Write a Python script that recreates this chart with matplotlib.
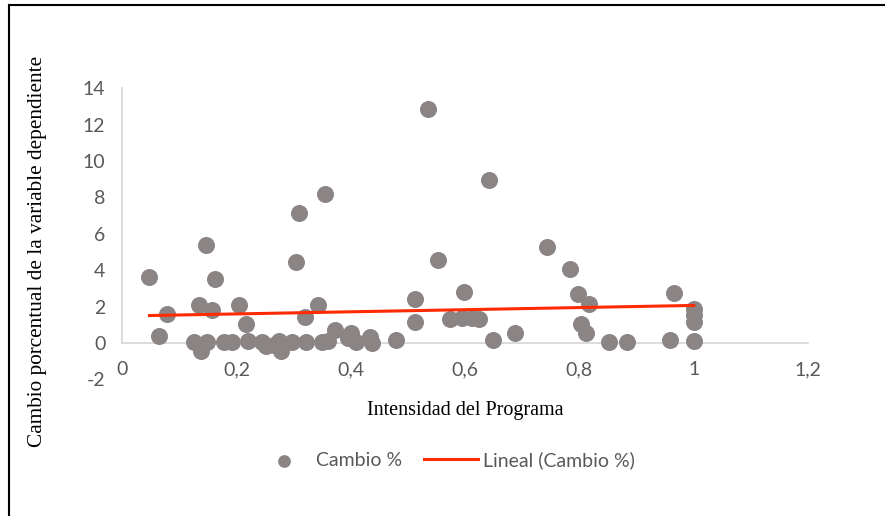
import numpy as np
import matplotlib.pyplot as plt
from matplotlib.lines import Line2D

# Intensidad del Programa vs. Cambio %
intensidad = np.array([
    0.048, 0.065, 0.079, 0.125, 0.135, 0.138, 0.147, 0.148, 0.157, 0.163,
    0.178, 0.193, 0.204, 0.217, 0.221, 0.244, 0.251, 0.265, 0.275, 0.278,
    0.297, 0.304, 0.309, 0.322, 0.320, 0.342, 0.349, 0.355, 0.361, 0.372,
    0.396, 0.400, 0.409, 0.434, 0.437, 0.479, 0.513, 0.513, 0.536, 0.552,
    0.574, 0.594, 0.599, 0.612, 0.625, 0.641, 0.649, 0.688, 0.744, 0.783,
    0.798, 0.803, 0.811, 0.816, 0.851, 0.883, 0.959, 0.966, 1.000, 1.000,
    1.000, 1.000,
])
cambio = np.array([
    3.64, 0.38, 1.59, 0.07, 2.09, -0.44, 5.38, 0.04, 1.81, 3.52,
    0.04, 0.04, 2.09, 1.03, 0.13, 0.04, -0.15, -0.11, 0.13, -0.44,
    0.04, 4.43, 7.12, 0.04, 1.45, 2.09, 0.04, 8.19, 0.13, 0.71,
    0.26, 0.53, 0.04, 0.35, -0.02, 0.16, 2.42, 1.17, 12.86, 4.56,
    1.32, 1.36, 2.82, 1.39, 1.30, 8.96, 0.16, 0.57, 5.29, 4.07,
    2.67, 1.03, 0.53, 2.12, 0.07, 0.07, 0.16, 2.73, 1.85, 1.55,
    1.14, 0.13,
])

x_ticks = [0, 0.2, 0.4, 0.6, 0.8, 1.0, 1.2]
x_labels = ['0', '0,2', '0,4', '0,6', '0,8', '1', '1,2']
y_ticks = [-2, 0, 2, 4, 6, 8, 10, 12, 14]

tick_font = 'Lato'
serif_font = 'Liberation Serif'
gris = '#595959'

fig = plt.figure(figsize=(8.85, 5.16), dpi=100)
ax = fig.add_axes([0.1379, 0.2647, 0.7752, 0.5643])

ax.scatter(intensidad, cambio, s=150, color='#8a8584', zorder=3,
           linewidths=0, label='Cambio %')

# linea de tendencia (ajuste lineal)
m, b = np.polyfit(intensidad, cambio, 1)
xt = np.array([intensidad.min(), intensidad.max()])
ax.plot(xt, m * xt + b, color='#ff2a00', linewidth=2.2, zorder=4,
        label='Lineal (Cambio %)')

ax.set_xlim(0, 1.2)
ax.set_ylim(-2, 14)
ax.set_xticks(x_ticks)
ax.set_xticklabels(x_labels)
ax.set_yticks(y_ticks)
ax.set_yticklabels([str(v) for v in y_ticks])

for s in ['top', 'right']:
    ax.spines[s].set_visible(False)
ax.spines['bottom'].set_position(('data', 0))
ax.spines['left'].set_bounds(0, 14)
for s in ['bottom', 'left']:
    ax.spines[s].set_color('#d9d9d9')
    ax.spines[s].set_linewidth(1.3)
ax.tick_params(length=0, labelsize=14, labelcolor=gris)
ax.tick_params(axis='x', pad=13)
ax.tick_params(axis='y', pad=12)
for lab in ax.get_xticklabels() + ax.get_yticklabels():
    lab.set_family(tick_font)

fig.text(465 / 885, 1 - 410 / 516, 'Intensidad del Programa', family=serif_font,
         fontsize=14.5, ha='center', va='center')
fig.text(38 / 885, 1 - 251 / 516, 'Cambio porcentual de la variable dependiente',
         family=serif_font, fontsize=15.3, rotation=90, ha='center', va='center')

handles, labels = ax.get_legend_handles_labels()
leg = fig.legend(handles, labels, loc='center', bbox_to_anchor=(446 / 885, 1 - 460 / 516),
                 ncol=2, frameon=False, prop={'family': tick_font, 'size': 14},
                 handlelength=2.75, columnspacing=1.15, handletextpad=0.25,
                 markerscale=0.75)
for t in leg.get_texts():
    t.set_color(gris)

# marco del grafico
fig.add_artist(Line2D([9 / 885, 9 / 885], [0, 1 - 5 / 516], color='black', linewidth=1.5))
fig.add_artist(Line2D([9 / 885, 1], [1 - 5 / 516, 1 - 5 / 516], color='black', linewidth=1.5))

fig.savefig('out.png', dpi=100)
